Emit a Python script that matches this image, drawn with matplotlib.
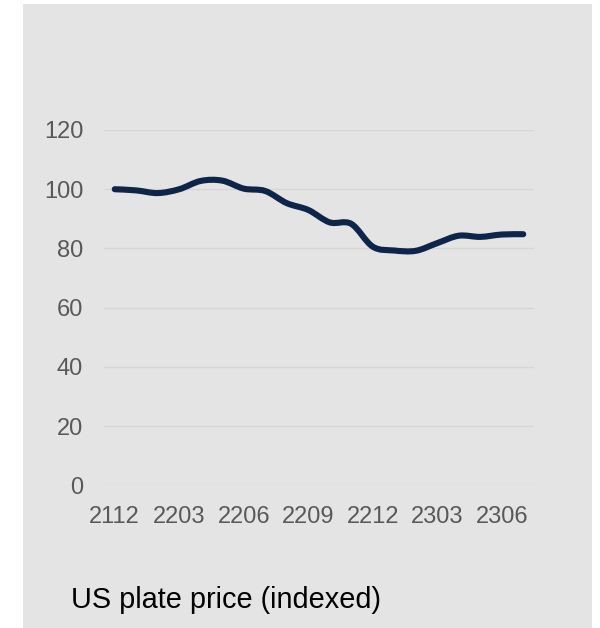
import matplotlib
matplotlib.use("Agg")
import matplotlib.pyplot as plt
from matplotlib.patches import Rectangle, PathPatch
from matplotlib.path import Path
import numpy as np

# Monthly index, Dec 2021 = 100
months = ["2112", "2201", "2202", "2203", "2204", "2205", "2206", "2207", "2208", "2209",
          "2210", "2211", "2212", "2301", "2302", "2303", "2304", "2305", "2306", "2307"]
price_index = [100.0, 99.6, 98.7, 100.0, 102.8, 102.9, 100.2, 99.4, 95.3, 93.0,
               88.8, 88.3, 80.6, 79.3, 79.2, 81.8, 84.3, 83.9, 84.7, 84.8]
y_ticks = [0, 20, 40, 60, 80, 100, 120]
title = "US plate price (indexed)"

W, H = 600, 628
fig = plt.figure(figsize=(W / 100, H / 100), dpi=100, facecolor="white")
plt.rcParams["font.family"] = ["Liberation Sans", "DejaVu Sans"]

# grey card behind the chart
fig.patches.append(Rectangle((23 / W, 0), (592 - 23) / W, 1 - 4 / H,
                             transform=fig.transFigure, facecolor="#e4e4e4",
                             edgecolor="none", zorder=-10))

ax = fig.add_axes([104 / W, 1 - 485.3 / H, (534 - 104) / W, (485.3 - 130) / H])
ax.set_facecolor("none")
for s in ax.spines.values():
    s.set_visible(False)

x = np.arange(len(months), dtype=float)
y = np.array(price_index)

# smoothed line: cubic Bezier segments through every data point
verts = [(x[0], y[0])]
codes = [Path.MOVETO]
n = len(x)
for i in range(n - 1):
    p0 = np.array([x[max(i - 1, 0)], y[max(i - 1, 0)]])
    p1 = np.array([x[i], y[i]])
    p2 = np.array([x[i + 1], y[i + 1]])
    p3 = np.array([x[min(i + 2, n - 1)], y[min(i + 2, n - 1)]])
    c1 = p1 + (p2 - p0) / 6.0
    c2 = p2 - (p3 - p1) / 6.0
    verts += [tuple(c1), tuple(c2), tuple(p2)]
    codes += [Path.CURVE4] * 3
ax.add_patch(PathPatch(Path(verts, codes), facecolor="none", edgecolor="#0e2448",
                       linewidth=4.4, capstyle="round", joinstyle="round", zorder=3))

ax.set_xlim(-0.5, n - 0.5)
ax.set_ylim(0, 120)
ax.set_yticks(y_ticks)
ax.set_yticklabels([str(t) for t in y_ticks])
ax.set_xticks(x[::3])
ax.set_xticklabels(months[::3])
ax.grid(axis="y", color="#d6d6d6", linewidth=1.0, zorder=1)
ax.tick_params(axis="both", length=0, labelsize=17, labelcolor="#595959")
ax.tick_params(axis="y", pad=15)
ax.tick_params(axis="x", pad=15)

fig.text(71 / W, 1 - 600 / H, title, fontsize=20.8, color="black",
         ha="left", va="center")

fig.savefig("out.png", dpi=100, facecolor="white")
